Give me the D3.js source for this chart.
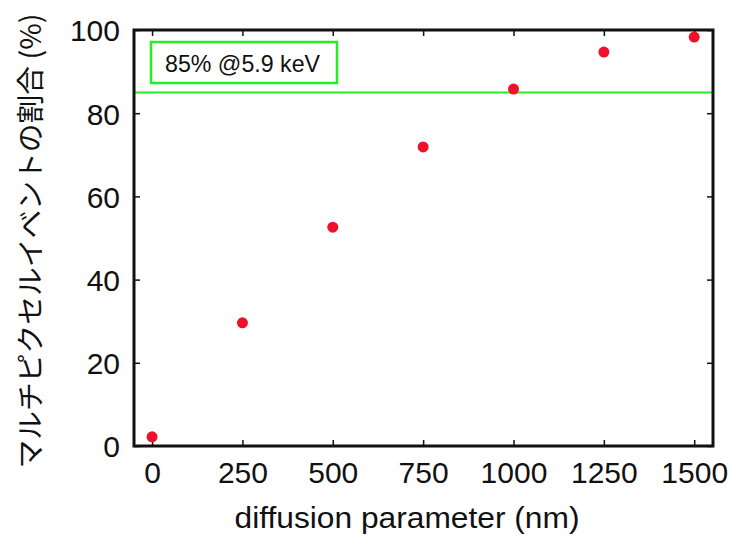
<!DOCTYPE html>
<html>
<head>
<meta charset="utf-8">
<script src="https://cdn.jsdelivr.net/npm/d3@7"></script>
<style>
  body { margin: 0; background: #fff; }
  text { font-family: "Liberation Sans", Arial, sans-serif; fill: #111; }
</style>
</head>
<body>
<script>
var svgWidth = 732;
var svgHeight = 538;

var diffusion = [0, 250, 500, 750, 1000, 1250, 1500];
var fraction = [2.2, 29.6, 52.6, 71.9, 85.8, 94.7, 98.3];
var xTicks = [0, 250, 500, 750, 1000, 1250, 1500];
var yTicks = [0, 20, 40, 60, 80, 100];
var threshold = 85;
var thresholdLabel = "85% @5.9 keV";

var chartMargin = { top: 30, right: 19, bottom: 92, left: 134 };
var chartWidth = svgWidth - chartMargin.left - chartMargin.right;
var chartHeight = svgHeight - chartMargin.top - chartMargin.bottom;

var svg = d3.select("body").append("svg")
    .attr("width", svgWidth)
    .attr("height", svgHeight);

var chartGroup = svg.append("g")
    .attr("transform", `translate(${chartMargin.left}, ${chartMargin.top})`);

var x = d3.scaleLinear().domain([-50, 1552]).range([0, chartWidth]);
var y = d3.scaleLinear().domain([0, 100]).range([chartHeight, 0]);

// axes with inward ticks, mirrored on top/right
var bottomAxis = d3.axisBottom(x).tickValues(xTicks).tickFormat(d3.format("d"))
    .tickSizeInner(-6).tickSizeOuter(0).tickPadding(14);
var leftAxis = d3.axisLeft(y).tickValues(yTicks).tickFormat(d3.format("d"))
    .tickSizeInner(-6).tickSizeOuter(0).tickPadding(14);

var gx = chartGroup.append("g")
    .attr("transform", `translate(0, ${chartHeight})`)
    .call(bottomAxis);
var gy = chartGroup.append("g").call(leftAxis);

chartGroup.append("g")
    .call(d3.axisTop(x).tickValues(xTicks).tickSizeInner(-6).tickSizeOuter(0).tickFormat(""));
chartGroup.append("g")
    .attr("transform", `translate(${chartWidth}, 0)`)
    .call(d3.axisRight(y).tickValues(yTicks).tickSizeInner(-6).tickSizeOuter(0).tickFormat(""));

chartGroup.selectAll(".domain").remove();
chartGroup.selectAll(".tick line").attr("stroke", "#111").attr("stroke-width", 1.5);
gx.selectAll("text")
    .style("font-size", "30px")
    .attr("fill", "#111")
    .attr("font-family", "Liberation Sans, Arial, sans-serif")
    .attr("y", 37).attr("dy", 0);
gy.selectAll("text")
    .style("font-size", "30px")
    .attr("fill", "#111")
    .attr("font-family", "Liberation Sans, Arial, sans-serif")
    .attr("dy", "0.36em");

// threshold line
chartGroup.append("line")
    .attr("x1", 0).attr("x2", chartWidth)
    .attr("y1", y(threshold)).attr("y2", y(threshold))
    .attr("stroke", "#22ee22").attr("stroke-width", 2);

// label box
chartGroup.append("rect")
    .attr("x", 17).attr("y", 12)
    .attr("width", 186).attr("height", 41)
    .attr("fill", "none").attr("stroke", "#22ee22").attr("stroke-width", 2.5);
chartGroup.append("text")
    .attr("x", 31).attr("y", 42)
    .attr("textLength", 155)
    .attr("lengthAdjust", "spacingAndGlyphs")
    .style("font-size", "24px")
    .text(thresholdLabel);

// points
chartGroup.selectAll(".dot")
    .data(diffusion)
    .enter()
    .append("circle")
    .attr("class", "dot")
    .attr("cx", d => x(d))
    .attr("cy", (d, i) => y(fraction[i]))
    .attr("r", 5.5)
    .attr("fill", "#f0102a");

// frame
chartGroup.append("rect")
    .attr("width", chartWidth).attr("height", chartHeight)
    .attr("fill", "none").attr("stroke", "#111").attr("stroke-width", 3);

// axis titles
svg.append("text")
    .attr("x", 407)
    .attr("y", 528)
    .attr("text-anchor", "middle")
    .attr("textLength", 345)
    .attr("lengthAdjust", "spacingAndGlyphs")
    .style("font-size", "29px")
    .text("diffusion parameter (nm)");

svg.append("text")
    .attr("transform", "translate(41, 241) rotate(-90)")
    .attr("text-anchor", "middle")
    .attr("textLength", 455)
    .attr("lengthAdjust", "spacingAndGlyphs")
    .style("font-size", "28px")
    .style("font-family", "'Noto Sans CJK JP', sans-serif")
    .text("マルチピクセルイベントの割合 (%)");
</script>
</body>
</html>
